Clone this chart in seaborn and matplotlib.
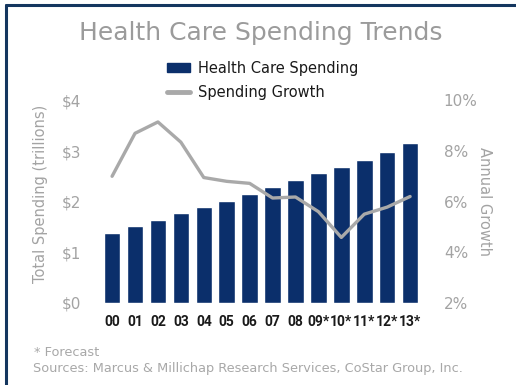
import matplotlib
matplotlib.use("Agg")
import matplotlib.pyplot as plt
import seaborn as sns
import pandas as pd
from matplotlib.patches import Patch
from matplotlib.lines import Line2D

years = ["00", "01", "02", "03", "04", "05", "06", "07", "08", "09*", "10*", "11*", "12*", "13*"]
spending = [1.38, 1.51, 1.63, 1.77, 1.89, 2.02, 2.15, 2.29, 2.42, 2.56, 2.68, 2.83, 2.98, 3.16]
growth = [7.0, 8.7, 9.15, 8.35, 6.95, 6.8, 6.72, 6.14, 6.18, 5.6, 4.58, 5.5, 5.78, 6.2]
left_ticks = [0, 1, 2, 3, 4]
left_labels = ["$0", "$1", "$2", "$3", "$4"]
right_ticks = [2, 4, 6, 8, 10]
right_labels = ["2%", "4%", "6%", "8%", "10%"]

sns.set_theme(style="white")
plt.rcParams['font.family'] = ['DejaVu Sans']

navy = "#0b2f6b"
lgrey = "#a9a9a9"
tgrey = "#a3a3a3"

df = pd.DataFrame({"year": years, "spending": spending, "growth": growth})

fig = plt.figure(figsize=(5.16, 3.85), dpi=100)
fig.patch.set_facecolor("white")
ax = fig.add_axes([0.195, 0.214, 0.622, 0.525])

sns.barplot(data=df, x="year", y="spending", color=navy, width=0.72, ax=ax, saturation=1)
ax.set_xlim(-0.5, 13.5)
ax.set_ylim(0, 4)
ax.set_yticks(left_ticks)
ax.set_yticklabels(left_labels, color=tgrey, fontsize=11)
ax.tick_params(axis="y", pad=14, length=0)
ax.tick_params(axis="x", pad=9, length=0)
for lbl in ax.get_xticklabels():
    lbl.set_family(["Roboto", "DejaVu Sans"])
    lbl.set_fontsize(10)
    lbl.set_fontweight("bold")
    lbl.set_color("#1a1a1a")
ax.set_xlabel("")
ax.set_ylabel("Total Spending (trillions)", color=tgrey, fontsize=10.5)
ax.yaxis.set_label_coords(-0.165, 0.54)
for s in ax.spines.values():
    s.set_visible(False)

ax2 = ax.twinx()
sns.lineplot(data=df, x="year", y="growth", color=lgrey, linewidth=2.4, ax=ax2, sort=False)
ax2.set_ylim(2, 10)
ax2.set_yticks(right_ticks)
ax2.set_yticklabels(right_labels, color=tgrey, fontsize=11)
ax2.tick_params(axis="y", pad=16, length=0)
ax2.set_ylabel("Annual Growth", color=tgrey, fontsize=10.5, rotation=270, labelpad=10)
ax2.set_xlim(-0.5, 13.5)
ax2.grid(False)
ax.grid(False)
for s in ax2.spines.values():
    s.set_visible(False)

fig.text(0.505, 0.913, "Health Care Spending Trends", ha="center", va="center",
         fontsize=18, color="#9b9b9b")

handles = [Patch(facecolor=navy, edgecolor=navy),
           Line2D([0], [0], color=lgrey, linewidth=3.5)]
fig.legend(handles, ["Health Care Spending", "Spending Growth"],
           loc="upper left", bbox_to_anchor=(0.298, 0.876), frameon=False,
           fontsize=10.5, handlelength=1.6, handleheight=0.6, handletextpad=0.55,
           labelspacing=0.65, labelcolor="#1a1a1a")

fig.text(0.066, 0.085, "* Forecast", fontsize=9.3, color="#a8a8a8", va="center")
fig.text(0.064, 0.043, "Sources: Marcus & Millichap Research Services, CoStar Group, Inc.",
         fontsize=9.3, color="#a8a8a8", va="center")

# navy frame on left and top
fig.add_artist(Line2D([0.012, 0.012], [0.0, 0.987], transform=fig.transFigure, color="#14365f", linewidth=2.2))
fig.add_artist(Line2D([0.012, 1.0], [0.987, 0.987], transform=fig.transFigure, color="#14365f", linewidth=2.2))

fig.savefig("out.png", dpi=100, facecolor="white")
